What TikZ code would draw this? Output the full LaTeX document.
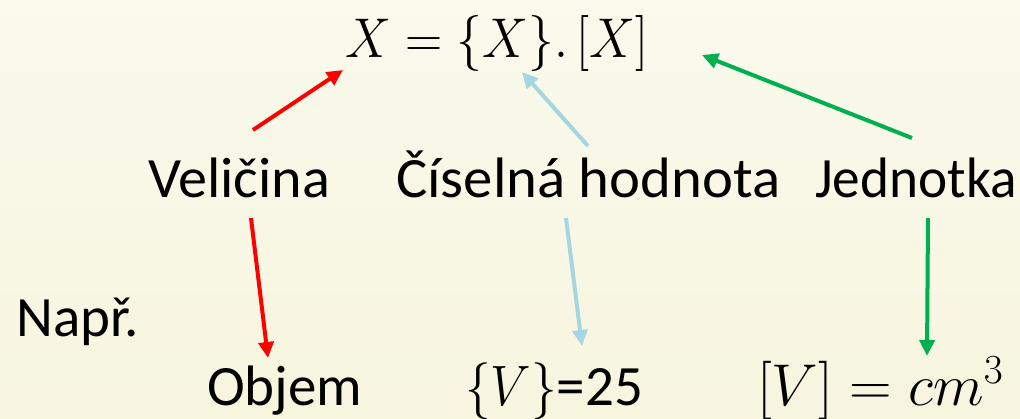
\documentclass[tikz,border=0pt]{standalone}
\usepackage{fix-cm}
\usepackage{fontspec}
\setmainfont{Carlito}
\usetikzlibrary{arrows.meta}
\definecolor{bgtop}{RGB}{250,250,237}
\definecolor{bgbot}{RGB}{247,245,222}
\definecolor{redA}{RGB}{255,0,0}
\definecolor{blueA}{RGB}{166,214,226}
\definecolor{greenA}{RGB}{0,176,80}
\tikzset{
  lbl/.style={anchor=base west, inner sep=0pt, font=\fontsize{57}{60}\selectfont, text=black},
  mth/.style={anchor=base west, inner sep=0pt, font=\fontsize{56}{60}\selectfont, text=black},
  arr/.style={line width=4pt, -{Triangle[length=16pt,width=15pt]}},
}
\begin{document}
\begin{tikzpicture}[x=1pt,y=-1pt]
\useasboundingbox (0,0) rectangle (1020,418);
\shade[top color=bgtop, bottom color=bgbot] (0,0) rectangle (1020,418);
% texts
\node[mth] (f) at (345,57) {\scalebox{0.92}[1]{$X=\{X\}.\,[X]$}};
\node[lbl] (vel) at (148,197) {\scalebox{1.02}[1]{Veličina}};
\node[lbl] (cis) at (396,197) {\scalebox{1.03}[1]{Číselná hodnota}};
\node[lbl] (jed) at (815,197) {\scalebox{0.97}[1]{Jednotka}};
\node[lbl] (napr) at (16,336) {Např.};
\node[lbl] (obj) at (207,405) {Objem};
\node[lbl] (val) at (465,405) {\scalebox{0.9}[1]{$\{V\}$}=25};
\node[mth, font=\fontsize{59}{62}\selectfont] (unit) at (757,405) {$[V]=cm^3$};
% arrow end points
\coordinate (r1s) at (253,130); \coordinate (r1e) at (343,70);
\coordinate (r2s) at (251,218); \coordinate (r2e) at (268,358);
\coordinate (b1s) at (588,146); \coordinate (b1e) at (522,72);
\coordinate (b2s) at (566,218); \coordinate (b2e) at (582,346);
\coordinate (g1s) at (912,138); \coordinate (g1e) at (702,55);
\coordinate (g2s) at (928,218); \coordinate (g2e) at (927,356);
\draw[arr, redA] (r1s) -- (r1e);
\draw[arr, redA] (r2s) -- (r2e);
\draw[arr, blueA] (b1s) -- (b1e);
\draw[arr, blueA] (b2s) -- (b2e);
\draw[arr, greenA] (g1s) -- (g1e);
\draw[arr, greenA] (g2s) -- (g2e);
\end{tikzpicture}
\end{document}
